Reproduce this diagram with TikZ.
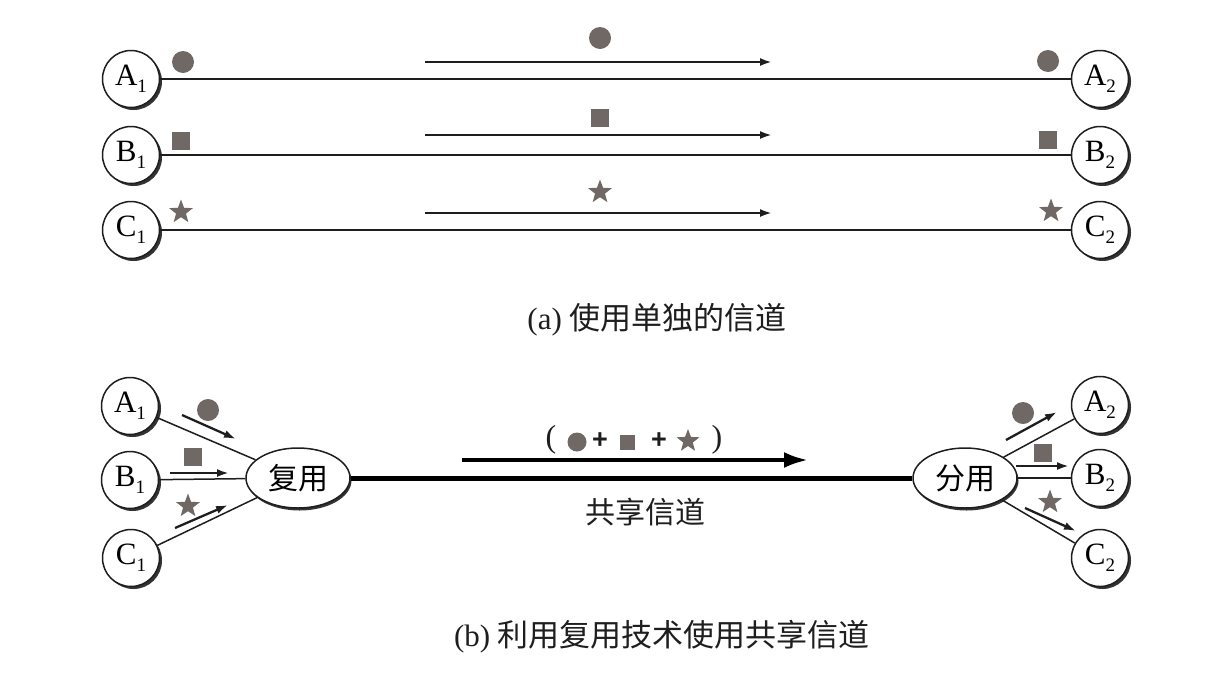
\documentclass[tikz,border=0pt]{standalone}
\usepackage{fontspec}
\setmainfont{Liberation Serif}
\newfontfamily\cjk{Noto Sans CJK SC}
\newfontfamily\plusfont{Liberation Sans}
\usetikzlibrary{arrows.meta,shapes.geometric,shadows}
\definecolor{symc}{RGB}{112,104,100}
\definecolor{inkc}{RGB}{30,30,30}
\newcommand{\lab}[2]{#1\raisebox{-7pt}{\fontsize{19}{19}\selectfont #2}}
\begin{document}
\begin{tikzpicture}[x=1pt,y=-1pt,
  host/.style={circle,draw=inkc,line width=1.5pt,fill=white,minimum size=57pt,inner sep=0pt,
    font=\fontsize{31}{31}\selectfont,
    drop shadow={shadow xshift=2.5pt,shadow yshift=-2.5pt,fill=black!80,opacity=1}},
  mx/.style={ellipse,draw=inkc,line width=1.5pt,fill=white,minimum width=104pt,minimum height=60pt,inner sep=0pt,
    font=\cjk\fontsize{30}{30}\selectfont,
    drop shadow={shadow xshift=1.5pt,shadow yshift=-2.5pt,fill=black!80,opacity=1}},
  wire/.style={draw=inkc,line width=1.5pt},
  flow/.style={draw=inkc,line width=2.3pt,-{Latex[length=12pt,width=8pt]}},
  bigflow/.style={draw=black,line width=4pt,-{Latex[length=24pt,width=16pt]}},
  dotsym/.style={circle,fill=symc,minimum size=22pt,inner sep=0pt},
  boxsym/.style={rectangle,fill=symc,minimum size=18pt,inner sep=0pt},
  starsym/.style={star,star points=5,star point ratio=2.4,fill=symc,minimum size=25pt,inner sep=0pt},
  caption/.style={font=\fontsize{31}{31}\selectfont,text=inkc}
]
\path[use as bounding box] (0,0) rectangle (1222,678);

% ---------- (a) separate channels ----------
\node[host] (tA1) at (131,79) {\lab{A}{1}};
\node[host] (tB1) at (131,155) {\lab{B}{1}};
\node[host] (tC1) at (131,230) {\lab{C}{1}};
\node[host] (tA2) at (1100,79) {\lab{A}{2}};
\node[host] (tB2) at (1100,155) {\lab{B}{2}};
\node[host] (tC2) at (1100,230) {\lab{C}{2}};

\draw[wire] (tA1) -- (tA2);
\draw[wire] (tB1) -- (tB2);
\draw[wire] (tC1) -- (tC2);

\node[dotsym] (sA1) at (183,62) {};
\node[boxsym] (sB1) at (181,141) {};
\node[starsym] (sC1) at (181,212) {};
\node[dotsym] (sA2) at (1048,61) {};
\node[boxsym] (sB2) at (1048,140) {};
\node[starsym] (sC2) at (1051,211) {};

\node[dotsym] (mA) at (600,38) {};
\node[boxsym] (mB) at (600,118) {};
\node[starsym] (mC) at (600,192) {};

\coordinate (fa1) at (425,62);  \coordinate (fa2) at (772,62);
\coordinate (fb1) at (425,135); \coordinate (fb2) at (772,135);
\coordinate (fc1) at (425,213); \coordinate (fc2) at (772,213);
\draw[flow] (fa1) -- (fa2);
\draw[flow] (fb1) -- (fb2);
\draw[flow] (fc1) -- (fc2);

\node[caption] (capa) at (657,320) {(a) {\cjk 使用单独的信道}};

% ---------- (b) multiplexing ----------
\node[host] (bA1) at (130,406) {\lab{A}{1}};
\node[host] (bB1) at (130,480) {\lab{B}{1}};
\node[host] (bC1) at (131,558) {\lab{C}{1}};
\node[host] (bA2) at (1100,405) {\lab{A}{2}};
\node[host] (bB2) at (1100,478) {\lab{B}{2}};
\node[host] (bC2) at (1100,558) {\lab{C}{2}};

\node[mx] (mux) at (298,478) {复用};
\node[mx] (demux) at (965,478) {分用};

\draw[wire] (bA1) -- (mux);
\draw[wire] (bB1) -- (mux);
\draw[wire] (bC1) -- (mux);
\draw[wire] (demux) -- (bA2);
\draw[wire] (demux) -- (bB2);
\draw[wire] (demux) -- (bC2);

\draw[line width=5pt,black] (mux) -- (demux);

% small arrows at the multiplexer
\coordinate (ia1) at (182,415); \coordinate (ia2) at (236,439);
\coordinate (ib1) at (170,473); \coordinate (ib2) at (229,473);
\coordinate (ic1) at (175,528); \coordinate (ic2) at (228,505);
\draw[flow] (ia1) -- (ia2);
\draw[flow] (ib1) -- (ib2);
\draw[flow] (ic1) -- (ic2);
\node[dotsym] (pA) at (208,410) {};
\node[boxsym] (pB) at (193,457) {};
\node[starsym] (pC) at (188,506) {};

% small arrows at the demultiplexer
\coordinate (oa1) at (1006,440); \coordinate (oa2) at (1057,412);
\coordinate (ob1) at (1016,466); \coordinate (ob2) at (1069,466);
\coordinate (oc1) at (1025,508); \coordinate (oc2) at (1076,531);
\draw[flow] (oa1) -- (oa2);
\draw[flow] (ob1) -- (ob2);
\draw[flow] (oc1) -- (oc2);
\node[dotsym] (qA) at (1023,413) {};
\node[boxsym] (qB) at (1043,453) {};
\node[starsym] (qC) at (1050,502) {};

% shared channel arrow and label
\coordinate (big1) at (462,460); \coordinate (big2) at (808,460);
\draw[bigflow] (big1) -- (big2);

\node[font=\fontsize{32}{32}\selectfont,text=inkc] (lp) at (551,440) {(};
\node[dotsym,minimum size=19pt] (lA) at (577,442) {};
\node[font=\plusfont\bfseries\fontsize{27}{27}\selectfont,text=inkc] (pl1) at (600,441) {+};
\node[boxsym,minimum size=15pt] (lB) at (627,442) {};
\node[font=\plusfont\bfseries\fontsize{27}{27}\selectfont,text=inkc] (pl2) at (659,441) {+};
\node[starsym,minimum size=24pt] (lC) at (688,441) {};
\node[font=\fontsize{32}{32}\selectfont,text=inkc] (rp) at (717,440) {)};

\node[font=\cjk\fontsize{30}{30}\selectfont,text=inkc] (share) at (645,512) {共享信道};

\node[caption] (capb) at (662,637) {(b) {\cjk 利用复用技术使用共享信道}};
\end{tikzpicture}
\end{document}
